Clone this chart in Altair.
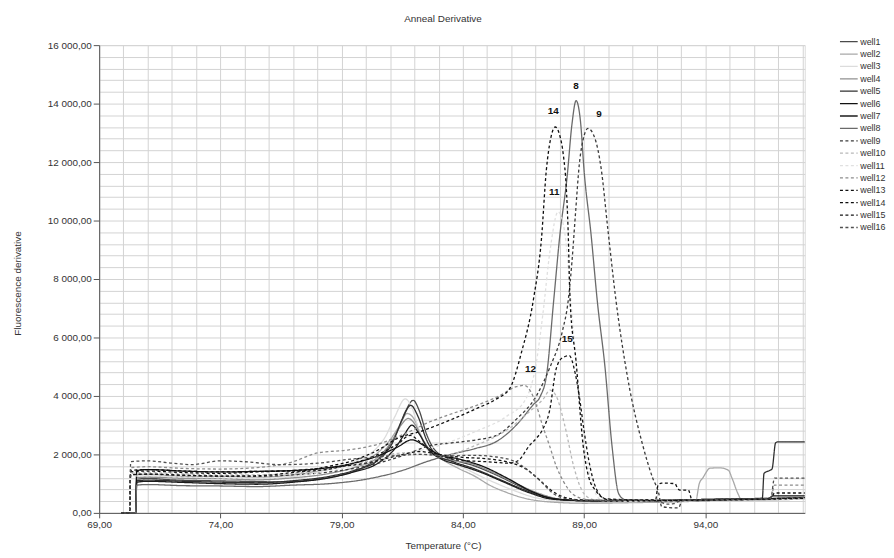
import altair as alt
import pandas as pd

wells = [f"well{i}" for i in range(1, 17)]

# ---- data: temperature (°C) and fluorescence derivative per well ----
T1 = [69.9, 70.5, 70.55, 71.0, 72.0, 73.5, 75.0, 76.5, 78.0, 79.0, 80.0, 80.8, 81.3, 81.65, 81.95, 82.2, 82.5, 82.9, 83.5, 84.5, 85.5, 86.5, 87.5, 88.5, 90.0, 92.0, 94.0, 96.0, 98.1]
V1 = [0, 0, 1150, 1180, 1130, 1100, 1080, 1060, 1150, 1300, 1600, 2100, 2800, 3500, 3850, 3500, 2700, 2100, 1850, 1600, 1250, 850, 550, 420, 380, 400, 420, 480, 500]

T2 = [69.9, 70.5, 70.55, 71.0, 72.5, 74.0, 75.5, 77.0, 78.5, 79.5, 80.4, 81.0, 81.4, 81.7, 82.0, 82.3, 82.7, 83.2, 83.8, 84.5, 85.1, 85.8, 86.5, 87.5, 89.0, 91.0, 93.6, 93.75, 93.9, 94.2, 94.6, 94.95, 95.1, 95.35, 95.5, 97.0, 98.1]
V2 = [0, 0, 1300, 1320, 1250, 1250, 1220, 1300, 1500, 1700, 2000, 2500, 3000, 3400, 3200, 2600, 2100, 1800, 1530, 1250, 950, 700, 510, 380, 330, 350, 400, 1000, 1200, 1530, 1540, 1460, 1190, 650, 430, 450, 470]

T3 = [69.9, 70.5, 70.55, 71.0, 72.5, 74.0, 75.5, 77.0, 78.5, 79.5, 80.3, 80.8, 81.2, 81.62, 81.9, 82.2, 82.6, 83.2, 84.0, 85.0, 86.0, 87.0, 88.0, 90.0, 93.0, 96.0, 98.1]
V3 = [0, 0, 1250, 1260, 1200, 1180, 1150, 1250, 1500, 1750, 2100, 2600, 3300, 3900, 3600, 2800, 2100, 1850, 1550, 1150, 800, 520, 420, 380, 420, 460, 480]

T4 = [69.9, 70.5, 70.55, 71.0, 72.5, 74.0, 75.5, 77.0, 78.5, 79.5, 80.5, 81.1, 81.45, 81.75, 82.05, 82.4, 82.8, 83.5, 84.3, 85.2, 86.2, 87.2, 88.2, 90.0, 93.0, 96.0, 98.1]
V4 = [0, 0, 1200, 1220, 1180, 1170, 1130, 1200, 1350, 1550, 1900, 2500, 3000, 3230, 3000, 2400, 2000, 1800, 1700, 1400, 1000, 650, 450, 400, 430, 470, 520]

T5 = [69.9, 70.5, 70.55, 71.0, 72.5, 74.0, 75.5, 77.0, 78.5, 79.5, 80.5, 81.1, 81.5, 81.85, 82.15, 82.5, 82.9, 83.6, 84.5, 85.5, 86.5, 87.5, 88.5, 90.0, 92.0, 94.0, 96.35, 96.42, 96.65, 96.75, 96.9, 97.0, 98.1]
V5 = [0, 0, 1100, 1120, 1080, 1050, 1030, 1100, 1250, 1450, 1800, 2400, 3200, 3680, 3300, 2500, 2000, 1750, 1500, 1150, 800, 520, 430, 400, 420, 460, 500, 1350, 1450, 1500, 2400, 2430, 2430]

T6 = [69.9, 70.5, 70.55, 71.0, 72.5, 74.0, 75.5, 77.0, 78.5, 79.5, 80.5, 81.3, 81.9, 82.4, 83.0, 83.8, 84.8, 85.8, 86.8, 87.8, 89.0, 92.0, 94.0, 96.6, 96.8, 98.1]
V6 = [0, 0, 1450, 1480, 1430, 1400, 1420, 1450, 1550, 1700, 1950, 2250, 2500, 2300, 2000, 1850, 1600, 1200, 750, 480, 420, 430, 460, 500, 580, 580]

T7 = [69.9, 70.5, 70.55, 71.0, 72.5, 74.0, 75.5, 77.0, 78.5, 79.5, 80.5, 81.2, 81.6, 81.9, 82.2, 82.6, 83.1, 83.8, 84.7, 85.7, 86.7, 87.7, 89.0, 92.0, 95.0, 98.1]
V7 = [0, 0, 1050, 1080, 1040, 1000, 980, 1050, 1200, 1400, 1700, 2200, 2700, 3000, 2700, 2150, 1850, 1650, 1400, 1050, 700, 470, 420, 420, 450, 520]

T8 = [69.9, 70.5, 70.55, 71.0, 72.5, 74.0, 75.5, 77.0, 78.5, 80.0, 81.5, 82.5, 83.5, 84.5, 85.4, 86.2, 86.9, 87.2, 87.45, 87.75, 88.0, 88.3, 88.5, 88.67, 88.85, 89.0, 89.29, 89.55, 89.86, 90.15, 90.43, 90.7, 92.0, 94.0, 96.0, 98.1]
V8 = [0, 0, 950, 970, 930, 920, 900, 950, 1000, 1150, 1450, 1750, 2000, 2200, 2450, 3000, 3700, 4000, 4700, 7300, 9500, 11500, 13300, 14100, 13400, 11700, 9500, 7200, 5000, 2300, 650, 450, 420, 450, 480, 520]

T9 = [69.9, 70.25, 70.3, 71.0, 72.5, 74.0, 75.5, 77.0, 78.5, 80.0, 81.5, 82.65, 83.6, 84.57, 85.39, 86.2, 87.03, 87.6, 88.1, 88.35, 88.5, 88.65, 88.8, 89.0, 89.16, 89.45, 89.7, 89.98, 90.31, 90.8, 91.42, 91.83, 92.07, 92.2, 92.5, 92.89, 93.05, 94.0, 96.0, 98.1]
V9 = [0, 0, 1300, 1320, 1280, 1260, 1250, 1300, 1400, 1600, 1950, 2300, 2400, 2500, 2650, 3200, 4000, 5000, 6200, 7300, 8600, 10300, 11900, 12900, 13150, 12800, 11800, 9700, 7300, 4600, 2310, 1190, 700, 220, 180, 170, 420, 430, 460, 500]

T10 = [69.9, 70.25, 70.3, 71.0, 72.5, 74.0, 75.5, 77.0, 78.5, 80.0, 81.5, 82.3, 83.22, 84.5, 85.93, 86.8, 87.32, 87.6, 87.9, 88.2, 88.6, 89.0, 89.4, 90.0, 93.0, 96.0, 98.1]
V10 = [0, 0, 1350, 1380, 1330, 1300, 1300, 1350, 1500, 1750, 2050, 2000, 1970, 2300, 2900, 3500, 3900, 4200, 3900, 3000, 1500, 650, 450, 400, 430, 460, 500]

T11 = [69.9, 70.25, 70.3, 71.0, 72.5, 74.0, 75.5, 77.0, 78.5, 80.0, 81.5, 83.0, 84.57, 85.8, 86.6, 87.0, 87.3, 87.6, 87.93, 88.2, 88.5, 88.9, 89.3, 89.7, 91.0, 94.0, 98.1]
V11 = [0, 0, 1250, 1270, 1220, 1200, 1180, 1250, 1450, 1700, 2000, 2300, 2800, 3300, 3900, 5000, 6800, 9000, 10300, 9600, 6800, 3000, 1100, 450, 400, 430, 480]

T12 = [69.9, 70.25, 70.3, 71.0, 72.5, 74.0, 75.5, 77.0, 78.0, 79.25, 80.5, 81.3, 81.85, 82.6, 83.4, 84.57, 85.5, 86.21, 86.54, 86.8, 87.03, 87.3, 87.57, 87.85, 88.14, 88.6, 89.2, 92.0, 94.0, 96.7, 96.85, 98.1]
V12 = [0, 0, 1550, 1580, 1520, 1500, 1550, 1750, 2050, 2150, 2350, 2600, 2800, 3100, 3350, 3680, 4000, 4320, 4360, 4150, 3680, 2950, 2310, 1600, 1090, 600, 450, 420, 440, 480, 950, 950]

T13 = [69.9, 70.25, 70.3, 71.0, 72.5, 74.0, 75.5, 77.0, 78.5, 80.0, 81.3, 82.2, 83.0, 84.0, 85.0, 85.8, 86.6, 87.2, 87.6, 88.1, 88.8, 90.0, 91.5, 91.95, 92.05, 92.2, 92.75, 92.85, 92.95, 93.3, 93.45, 95.0, 96.7, 96.85, 98.1]
V13 = [0, 0, 1400, 1430, 1380, 1350, 1400, 1450, 1550, 1700, 1950, 2100, 2000, 1900, 1850, 1750, 1500, 1100, 800, 560, 450, 420, 440, 450, 950, 1020, 1000, 850, 780, 780, 450, 460, 480, 680, 680]

T14 = [69.9, 70.25, 70.3, 71.0, 72.5, 74.0, 75.5, 77.2, 78.5, 79.5, 80.5, 81.3, 82.3, 83.34, 84.57, 85.39, 85.93, 86.42, 86.91, 87.24, 87.44, 87.62, 87.81, 88.0, 88.15, 88.26, 88.34, 88.42, 88.67, 88.96, 89.2, 89.49, 90.0, 92.0, 95.0, 98.1]
V14 = [0, 0, 1450, 1480, 1430, 1400, 1420, 1430, 1600, 1800, 2150, 2550, 2800, 3130, 3570, 3900, 4250, 5500, 7300, 9360, 11700, 12800, 13200, 12900, 12200, 11200, 9700, 7300, 5170, 2310, 1200, 750, 450, 420, 450, 500]

T15 = [69.9, 70.25, 70.3, 71.0, 72.5, 74.0, 75.5, 77.2, 78.5, 79.5, 80.5, 81.3, 81.83, 82.2, 82.65, 83.3, 83.88, 85.0, 85.93, 86.3, 86.75, 87.03, 87.32, 87.57, 87.85, 88.1, 88.39, 88.6, 88.8, 89.0, 89.2, 89.49, 89.9, 92.0, 95.0, 98.1]
V15 = [0, 0, 1300, 1330, 1290, 1260, 1270, 1400, 1500, 1700, 2000, 2350, 2650, 2450, 2140, 1900, 1800, 1750, 1700, 1800, 2310, 2550, 2900, 3470, 4930, 5300, 5380, 4900, 4000, 2800, 1770, 850, 480, 430, 450, 520]

T16 = [69.9, 70.25, 70.3, 71.0, 72.0, 72.8, 74.0, 75.0, 76.5, 78.0, 79.5, 81.0, 82.3, 83.4, 84.4, 85.3, 86.1, 86.7, 87.2, 87.7, 88.3, 89.0, 91.0, 92.1, 92.4, 92.7, 93.0, 95.0, 96.7, 96.85, 98.1]
V16 = [0, 0, 1750, 1780, 1700, 1650, 1780, 1750, 1650, 1700, 1850, 1950, 2000, 1950, 1970, 1920, 1770, 1450, 1090, 680, 480, 430, 430, 380, 300, 320, 420, 460, 500, 1190, 1190]

x_ticks = list(range(69, 99))          # 1 °C grid, labels every 5 °C
y_ticks = list(range(0, 16001, 400))   # 400 grid, labels every 2000

peak_labels = ["8", "9", "11", "12", "14", "15"]

temps = [T1, T2, T3, T4, T5, T6, T7, T8, T9, T10, T11, T12, T13, T14, T15, T16]
vals = [V1, V2, V3, V4, V5, V6, V7, V8, V9, V10, V11, V12, V13, V14, V15, V16]

rows = []
for w, ts, vs in zip(wells, temps, vals):
    for t, v in zip(ts, vs):
        rows.append({"well": w, "T": t, "v": v})
df = pd.DataFrame(rows)

colors = ["#4a4a4a", "#a8a8a8", "#dcdcdc", "#909090", "#303030", "#111111", "#1c1c1c", "#6a6a6a",
          "#3a3a3a", "#b8b8b8", "#e0e0e0", "#8c8c8c", "#111111", "#0d0d0d", "#151515", "#505050"]
dashes = [[1, 0]] * 8 + [[3, 2.5]] * 8
widths = [1.3] * 8 + [2.7] * 8

FONT = "Liberation Sans"

legend = alt.Legend(
    title=None, orient="none", legendX=751, legendY=-9,
    symbolType="M-2,0H2", symbolSize=80, labelFontSize=9, labelFont=FONT,
    labelColor="#333333", labelOffset=6, rowPadding=1.5, padding=0,
    labelLimit=200,
)

x_axis = alt.Axis(
    values=x_ticks, tickCount=200,
    labelExpr="datum.value % 5 == 4 ? replace(format(datum.value, '.2f'), '.', ',') : ''",
    tickOpacity={"condition": {"test": "datum.value % 5 != 4", "value": 0}, "value": 1},
    grid=True, gridColor="#d2d2d2", gridWidth=1,
    domainColor="#555555", tickColor="#555555", tickSize=5,
    labelFont=FONT, labelFontSize=10, labelColor="#333333", labelPadding=2,
    labelFlush=False, labelOverlap=False,
    titleFont=FONT, titleFontSize=10, titleFontWeight="normal", titleColor="#333333",
    titleX=347, titleY=33, titleAlign="center", titleBaseline="middle",
)

y_axis = alt.Axis(
    values=y_ticks, tickCount=200,
    labelExpr="datum.value % 2000 == 0 ? replace(replace(format(datum.value, ',.2f'), ',', ' '), '.', ',') : ''",
    tickOpacity={"condition": {"test": "datum.value % 2000 != 0", "value": 0}, "value": 1},
    grid=True, gridColor="#d2d2d2", gridWidth=1,
    domainColor="#555555", tickColor="#555555", tickSize=6,
    labelFont=FONT, labelFontSize=10, labelColor="#333333", labelPadding=2,
    labelFlush=False, labelOverlap=False,
    titleFont=FONT, titleFontSize=10, titleFontWeight="normal", titleColor="#333333",
    titleX=-82, titleY=240, titleAngle=270, titleAlign="center", titleBaseline="middle",
)

x_enc = alt.X("T:Q", title="Temperature (°C)",
              scale=alt.Scale(domain=[69, 98.1], nice=False, zero=False), axis=x_axis)
y_enc = alt.Y("v:Q", title="Fluorescence derivative",
              scale=alt.Scale(domain=[0, 16000], nice=False), axis=y_axis)

lines = alt.Chart(df).mark_line(interpolate="monotone", strokeCap="butt", strokeJoin="round").encode(
    x=x_enc,
    y=y_enc,
    color=alt.Color("well:N", scale=alt.Scale(domain=wells, range=colors), legend=legend),
    strokeDash=alt.StrokeDash("well:N", scale=alt.Scale(domain=wells, range=dashes), legend=legend),
    strokeWidth=alt.StrokeWidth("well:N", scale=alt.Scale(domain=wells, range=widths), legend=legend),
    order=alt.Order("T:Q"),
)

offsets = {"8": (0, -15), "9": (11, -15), "11": (-4, -20), "12": (6, -17), "14": (-2, -16), "15": (-2, -17)}
layers = [lines]
for lab in peak_labels:
    i = int(lab) - 1
    ts, vs = temps[i], vals[i]
    k = max(range(len(vs)), key=lambda j: vs[j])
    ldf = pd.DataFrame({"T": [ts[k]], "v": [vs[k]], "label": [lab]})
    dx, dy = offsets[lab]
    layers.append(
        alt.Chart(ldf).mark_text(font=FONT, fontSize=10, fontWeight="bold", color="#111111",
                                 dx=dx, dy=dy, baseline="middle", align="center")
        .encode(x="T:Q", y="v:Q", text="label:N")
    )

chart = alt.layer(*layers).properties(
    width=712, height=472,
    title=alt.TitleParams("Anneal Derivative", font=FONT, fontSize=10, fontWeight="normal",
                          color="#333333", anchor="middle", dx=-9, offset=12),
    padding={"left": 92, "top": 35, "right": 82, "bottom": 38},
    autosize=alt.AutoSizeParams(type="none"),
).configure_view(strokeWidth=0).configure(background="white")

chart.save("out.html", embed_options={"renderer": "svg", "actions": False})
